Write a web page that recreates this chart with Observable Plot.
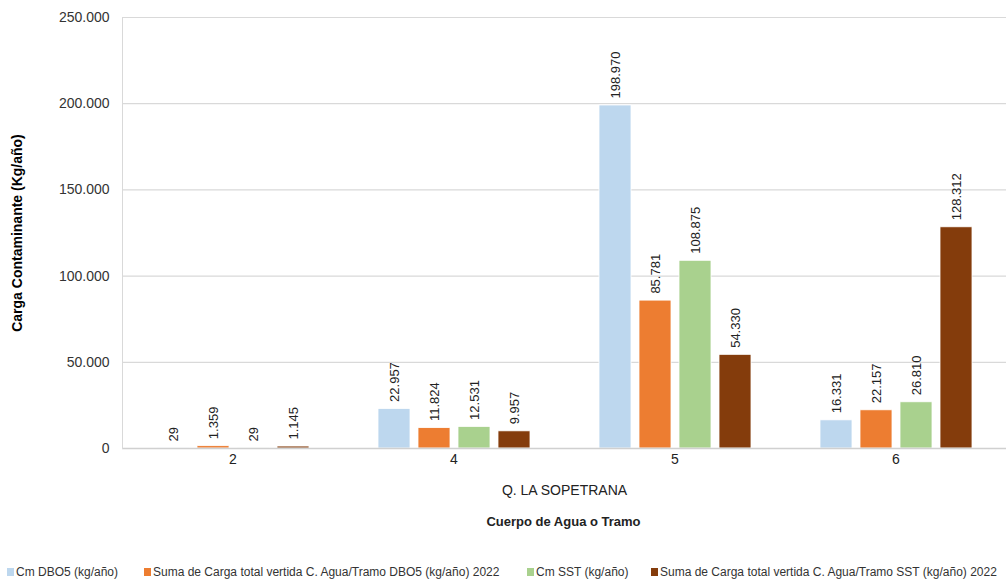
<!DOCTYPE html>
<html>
<head>
<meta charset="utf-8">
<script src="https://cdn.jsdelivr.net/npm/d3@7"></script>
<script src="https://cdn.jsdelivr.net/npm/@observablehq/plot@0.6"></script>
<style>
  body { margin: 0; background: #fff; font-family: "Liberation Sans", Arial, sans-serif; }
  #wrap { position: relative; width: 1006px; height: 580px; }
  #chart svg { display: block; }
  #chart [aria-label="y-axis label"] { font-weight: bold; font-size: 14px; fill: #000; }
  #xtitle { position: absolute; left: 121px; width: 885px; top: 514px; text-align: center; font-weight: bold; font-size: 13px; color: #222; }
  .leg { position: absolute; top: 565px; font-size: 12px; color: #333; white-space: nowrap; display: flex; align-items: center; }
  .leg span.sw { display: inline-block; width: 7px; height: 8px; margin-right: 2px; }
</style>
</head>
<body>
<div id="wrap">
  <div id="chart"></div>
  <div id="xtitle">Cuerpo de Agua o Tramo</div>
  <div id="legend"></div>
</div>
<script>
const categories = ["2", "4", "5", "6"];
const series = [
  "Cm DBO5 (kg/año)",
  "Suma de Carga total vertida C. Agua/Tramo DBO5 (kg/año) 2022",
  "Cm SST (kg/año)",
  "Suma de Carga total vertida C. Agua/Tramo SST (kg/año) 2022"
];
const cmDBO5 = [29, 22957, 198970, 16331];
const sumaDBO5 = [1359, 11824, 85781, 22157];
const cmSST = [29, 12531, 108875, 26810];
const sumaSST = [1145, 9957, 54330, 128312];
const yTicks = [0, 50000, 100000, 150000, 200000, 250000];
const colors = ["#BDD7EE", "#ED7D31", "#A9D18E", "#843C0C"];
const legendLeft = [7, 144, 527, 651];

const seriesValues = [cmDBO5, sumaDBO5, cmSST, sumaSST];
const data = [];
categories.forEach((c, i) => series.forEach((s, j) => data.push({cat: c, series: s, value: seriesValues[j][i]})));

const loc = d3.formatLocale({decimal: ",", thousands: ".", grouping: [3], currency: ["", ""]});
const fmt = loc.format(",d");

const chart = Plot.plot({
  width: 1006,
  height: 500,
  marginLeft: 121,
  marginRight: 0,
  marginTop: 17,
  marginBottom: 52,
  style: {fontFamily: "'Liberation Sans', Arial, sans-serif", fontSize: "13px", color: "#333", background: "#fff"},
  fx: {domain: categories, padding: 0, label: null},
  x: {domain: series, paddingInner: 0.2, paddingOuter: 0.83, axis: null},
  y: {domain: [0, 250000], axis: null},
  color: {domain: series, range: colors},
  marks: [
    Plot.ruleY(yTicks.slice(1), {y: d => d, stroke: "#d9d9d9", strokeWidth: 1.2}),
    Plot.axisY(yTicks, {tickSize: 0, tickPadding: 13, tickFormat: fmt, fontSize: 14, fill: "#333", label: "Carga Contaminante (Kg/año)", labelAnchor: "center", labelOffset: 110, labelArrow: "none"}),
    Plot.axisFx({anchor: "bottom", tickSize: 0, tickPadding: 6, fontSize: 14, fill: "#222", label: "Q. LA SOPETRANA", labelAnchor: "center", labelOffset: 46, labelArrow: "none"}),
    Plot.barY(data, {fx: "cat", x: "series", y: "value", fill: "series", stroke: "#fff", strokeWidth: 0.8}),
    Plot.text(data, {fx: "cat", x: "series", y: "value", text: d => fmt(d.value), rotate: -90, textAnchor: "start", dy: -7, fontSize: 13, fill: "#222"}),
    Plot.ruleY([0], {stroke: "#d0d0d0", strokeWidth: 1.5}),
    Plot.frame({anchor: "left", stroke: "#d9d9d9", facet: "super"})
  ]
});
document.getElementById("chart").appendChild(chart);

const legend = document.getElementById("legend");
series.forEach((s, i) => {
  const item = document.createElement("div");
  item.className = "leg";
  item.style.left = legendLeft[i] + "px";
  const sw = document.createElement("span");
  sw.className = "sw";
  sw.style.background = colors[i];
  item.appendChild(sw);
  item.appendChild(document.createTextNode(s));
  legend.appendChild(item);
});
</script>
</body>
</html>
